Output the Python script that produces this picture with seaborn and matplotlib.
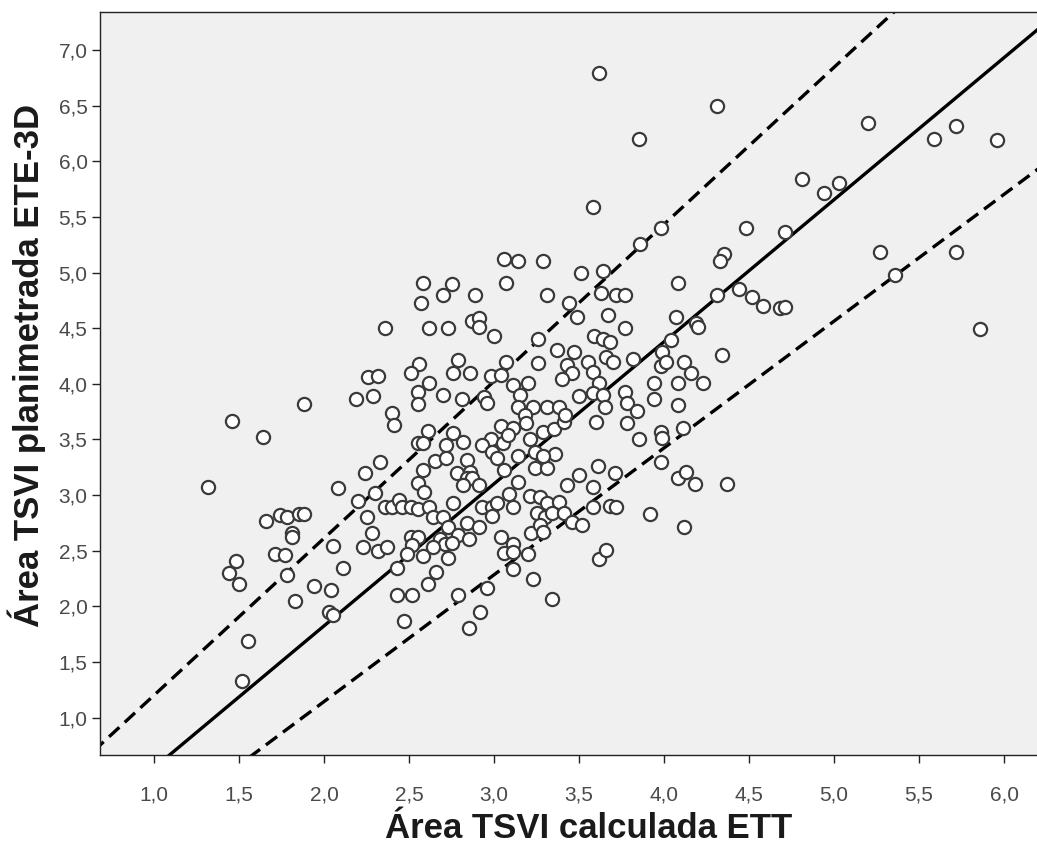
import numpy as np
import pandas as pd
import matplotlib
matplotlib.use("Agg")
import matplotlib.pyplot as plt
import seaborn as sns

# ---- data ----
x_tte = [1.32, 1.46, 1.64, 1.88, 1.48, 1.44, 1.50, 1.55, 1.52, 1.66, 1.74, 1.78, 1.85, 1.88,
         1.81, 1.81, 1.71, 1.77, 1.78, 1.83, 1.94, 2.04, 2.03, 2.05, 2.05, 2.11, 2.25, 2.28,
         2.23, 2.32, 2.37, 2.43, 2.43, 2.36, 2.26, 2.32, 2.19, 2.29, 2.40, 2.41, 2.33, 2.24,
         2.08, 2.30, 2.20, 2.36, 2.40, 2.44,
         3.06, 3.14, 3.29, 2.58, 2.75, 2.70, 2.89, 3.07, 3.31, 2.57, 2.87, 2.91, 2.91, 2.62,
         2.73, 3.00, 3.26, 2.56, 2.51, 2.79, 2.76, 2.86, 3.07, 3.26, 2.98, 3.04, 2.62, 3.11,
         3.20,
         2.55, 2.70, 2.81, 2.94, 2.96, 3.15, 2.55, 3.14, 3.23, 3.31, 3.18, 3.19, 2.61, 2.55,
         2.58, 2.76, 2.72, 2.82, 3.04, 3.11, 2.98, 3.05, 3.08, 2.93, 2.99, 3.02, 3.21, 3.29,
         3.24, 3.28, 2.65, 2.72, 2.84, 3.14, 2.58, 2.78, 2.86, 2.84, 2.87, 2.91, 2.82, 3.06,
         3.14, 3.24, 3.31, 2.55, 2.59, 2.46, 2.51, 2.55, 2.62, 2.64, 2.76, 2.93, 2.99, 3.02,
         3.11, 3.09, 2.99, 3.21, 3.27, 3.31, 3.25, 3.30, 2.70, 2.73, 2.84, 2.91, 2.79, 2.85,
         2.51, 2.55, 2.52, 2.68, 2.71, 2.75, 3.04, 3.11, 3.22, 3.27, 3.29,
         2.49, 2.58, 2.64, 2.73, 2.66, 2.61, 2.52, 2.79, 2.96, 2.47, 2.92, 2.85, 3.06, 3.11,
         3.20, 3.11, 3.23, 3.34, 3.62, 3.66,
         3.86, 3.51, 3.64, 4.08, 3.63, 3.72, 3.77, 3.44, 3.49, 3.67, 4.07, 3.77, 3.59, 3.64,
         3.68, 4.19, 4.20, 4.04, 3.37, 3.47, 3.99, 3.43, 3.46, 3.55, 3.58, 3.66, 3.70, 3.82,
         3.98, 4.01, 4.12, 4.16, 3.40, 3.62, 3.94, 4.08, 3.50, 3.58, 3.77, 3.94, 3.64,
         3.38, 3.35, 3.41, 3.42, 3.65, 3.78, 3.84, 4.08, 3.60, 3.78, 3.85, 3.98, 3.99, 4.11,
         3.36, 3.29, 3.61, 3.71, 3.50, 3.98, 3.43, 3.58, 4.08, 4.13, 4.18, 3.38, 3.58, 3.68,
         3.72, 3.34, 3.41, 3.46, 3.52, 3.92, 4.12,
         4.48, 4.71, 4.35, 4.33, 4.31, 4.44, 4.52, 4.58, 4.68, 4.71, 4.34, 4.23, 4.37,
         3.62, 4.31, 3.85, 3.58, 3.98, 5.20, 5.59, 5.72, 5.96, 4.81, 4.94, 5.03, 5.27, 5.36,
         5.72, 5.86]

y_ete3d = [3.07, 3.67, 3.52, 3.82, 2.41, 2.30, 2.20, 1.69, 1.33, 2.77, 2.82, 2.80, 2.83, 2.83,
           2.66, 2.62, 2.47, 2.46, 2.28, 2.05, 2.18, 2.15, 1.95, 1.92, 2.54, 2.35, 2.80, 2.66,
           2.53, 2.50, 2.53, 2.10, 2.35, 4.50, 4.06, 4.07, 3.86, 3.89, 3.74, 3.63, 3.30, 3.20,
           3.06, 3.02, 2.95, 2.89, 2.89, 2.96,
           5.12, 5.10, 5.10, 4.91, 4.90, 4.80, 4.80, 4.91, 4.80, 4.73, 4.56, 4.59, 4.51, 4.50,
           4.50, 4.43, 4.40, 4.18, 4.10, 4.21, 4.10, 4.10, 4.20, 4.19, 4.07, 4.08, 4.01, 3.99,
           4.01,
           3.93, 3.90, 3.86, 3.88, 3.83, 3.90, 3.82, 3.79, 3.79, 3.79, 3.72, 3.65, 3.58, 3.47,
           3.47, 3.56, 3.45, 3.48, 3.62, 3.60, 3.50, 3.47, 3.54, 3.45, 3.39, 3.33, 3.50, 3.57,
           3.39, 3.30, 3.31, 3.33, 3.32, 3.35, 3.23, 3.20, 3.21, 3.15, 3.15, 3.09, 3.09, 3.23,
           3.12, 3.24, 3.24, 3.11, 3.03, 2.89, 2.89, 2.88, 2.89, 2.80, 2.93, 2.89, 2.89, 2.93,
           2.89, 3.01, 2.81, 2.99, 2.98, 2.93, 2.84, 2.80, 2.80, 2.71, 2.75, 2.71, 2.64, 2.61,
           2.62, 2.62, 2.55, 2.61, 2.56, 2.57, 2.62, 2.56, 2.66, 2.73, 2.67,
           2.47, 2.45, 2.53, 2.44, 2.31, 2.20, 2.10, 2.10, 2.17, 1.87, 1.95, 1.81, 2.48, 2.49,
           2.47, 2.34, 2.25, 2.07, 2.43, 2.51,
           5.26, 5.00, 5.01, 4.91, 4.82, 4.80, 4.80, 4.73, 4.60, 4.62, 4.60, 4.50, 4.43, 4.40,
           4.38, 4.55, 4.51, 4.39, 4.30, 4.29, 4.29, 4.17, 4.10, 4.20, 4.11, 4.24, 4.20, 4.22,
           4.16, 4.20, 4.20, 4.10, 4.04, 4.01, 4.01, 4.01, 3.89, 3.92, 3.93, 3.86, 3.90,
           3.79, 3.59, 3.66, 3.72, 3.79, 3.83, 3.76, 3.81, 3.66, 3.65, 3.50, 3.57, 3.51, 3.60,
           3.37, 3.35, 3.26, 3.20, 3.18, 3.30, 3.09, 3.07, 3.15, 3.21, 3.10, 2.94, 2.89, 2.90,
           2.89, 2.84, 2.84, 2.76, 2.73, 2.83, 2.71,
           5.40, 5.36, 5.17, 5.10, 4.80, 4.85, 4.78, 4.70, 4.68, 4.69, 4.26, 4.01, 3.10,
           6.79, 6.50, 6.20, 5.59, 5.40, 6.34, 6.20, 6.32, 6.19, 5.84, 5.71, 5.80, 5.18, 4.98,
           5.18, 4.49]

# reference lines (intercept, slope)
line_names = ["fit", "upper", "lower"]
line_intercepts = [-0.726, -0.207, -1.132]
line_slopes = [1.276, 1.41, 1.139]
line_styles = ["-", "--", "--"]

x_ticks = [1.0, 1.5, 2.0, 2.5, 3.0, 3.5, 4.0, 4.5, 5.0, 5.5, 6.0]
x_tick_labels = ["1,0", "1,5", "2,0", "2,5", "3,0", "3,5", "4,0", "4,5", "5,0", "5,5", "6,0"]
y_ticks = [1.0, 1.5, 2.0, 2.5, 3.0, 3.5, 4.0, 4.5, 5.0, 5.5, 6.0, 6.5, 7.0]
y_tick_labels = ["1,0", "1,5", "2,0", "2,5", "3,0", "3,5", "4,0", "4,5", "5,0", "5,5", "6,0", "6,5", "7,0"]

x_label = "Área TSVI calculada ETT"
y_label = "Área TSVI planimetrada ETE-3D"

n = min(len(x_tte), len(y_ete3d))
df = pd.DataFrame({"x": x_tte[:n], "y": y_ete3d[:n]})

sns.set_style("white")
plt.rcParams["font.family"] = ["Liberation Sans", "DejaVu Sans"]

fig = plt.figure(figsize=(10.37, 8.46), dpi=100)
ax = fig.add_axes([100 / 1037, (846 - 755) / 846, 937 / 1037, (755 - 12) / 846])
ax.set_facecolor("#f0f0f0")

xlim = (0.682, 6.194)
ylim = (0.666, 7.34)

lx = np.array([xlim[0] - 0.5, xlim[1] + 0.5])
for name, b0, b1, ls in zip(line_names, line_intercepts, line_slopes, line_styles):
    lines_df = pd.DataFrame({"x": lx, "y": b0 + b1 * lx})
    sns.lineplot(data=lines_df, x="x", y="y", ax=ax, color="black", lw=2.4,
                 linestyle=ls, zorder=2)
for l in ax.get_lines():
    if l.get_linestyle() == "--":
        l.set_dashes([4.2, 2.2])

sns.scatterplot(data=df, x="x", y="y", ax=ax, s=90, facecolor="white",
                edgecolor="#3a3a3a", linewidth=1.6, zorder=3)

ax.set_xlim(*xlim)
ax.set_ylim(*ylim)
ax.set_xticks(x_ticks)
ax.set_xticklabels(x_tick_labels)
ax.set_yticks(y_ticks)
ax.set_yticklabels(y_tick_labels)
ax.tick_params(axis="both", direction="out", length=6, width=1.0, colors="#222222",
               labelsize=15, labelcolor="#4a4a4a")
ax.tick_params(axis="x", bottom=True, pad=16)
ax.tick_params(axis="y", left=True, pad=3)

for side in ["left", "bottom", "top"]:
    ax.spines[side].set_visible(True)
    ax.spines[side].set_color("#222222")
    ax.spines[side].set_linewidth(1.0)
ax.spines["right"].set_visible(False)

ax.set_xlabel(x_label, fontsize=25, fontweight="bold", color="#1a1a1a")
ax.set_ylabel(y_label, fontsize=25, fontweight="bold", color="#1a1a1a")
ax.xaxis.set_label_coords((589 - 100) / 937, (755 - 812) / 743)
ax.yaxis.set_label_coords((46 - 100) / 937, (755 - 365) / 743)

fig.savefig("out.png", dpi=100, facecolor="white")
